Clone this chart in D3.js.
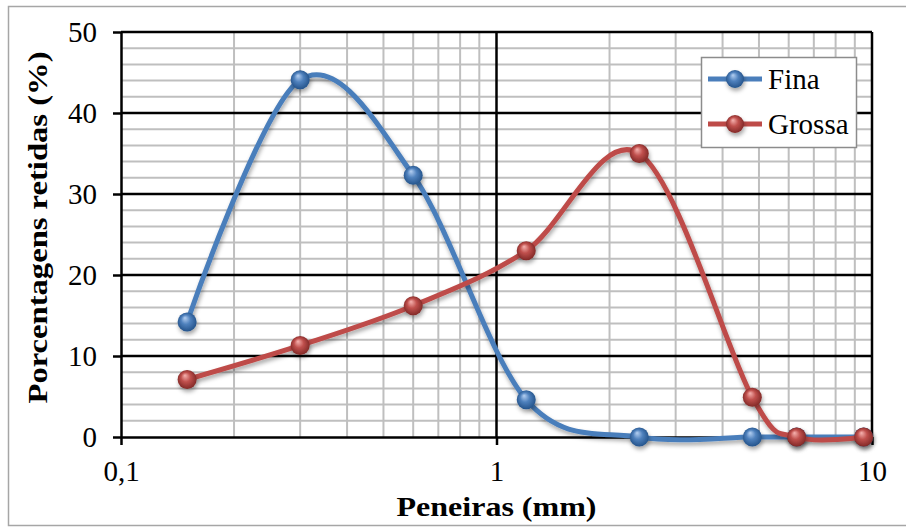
<!DOCTYPE html>
<html>
<head>
<meta charset="utf-8">
<script src="https://cdn.jsdelivr.net/npm/d3@7"></script>
<style>
  body { margin: 0; background: #fff; }
  svg { display: block; }
</style>
</head>
<body>
<div id="chart"></div>
<script>
// Sieve openings (mm) and retained percentages.
const peneiras = [0.15, 0.3, 0.6, 1.2, 2.4, 4.8, 6.3, 9.5];
const fina = [14.2, 44.1, 32.3, 4.6, 0, 0, 0, 0];
const grossa = [7.1, 11.3, 16.2, 23.0, 35.0, 4.9, 0, 0];

const seriesNames = ["Fina", "Grossa"];
const xTicks = [0.1, 1, 10];
const xTickLabels = ["0,1", "1", "10"];
const yTicks = [0, 10, 20, 30, 40, 50];

const width = 906, height = 527;
const margin = { top: 32, right: 34, bottom: 90, left: 121 };

const svg = d3.select("#chart").append("svg")
    .attr("width", width)
    .attr("height", height);

// Gradients for the shiny ball markers and a soft drop shadow.
const defs = svg.append("defs");
const palette = {
    Fina: { line: "#4A7EBB", light: "#B5D0F2", base: "#4F81BD", dark: "#1F4E85" },
    Grossa: { line: "#BE4B48", light: "#F6B3B0", base: "#C0504D", dark: "#7A2422" }
};
seriesNames.forEach(name => {
    const g = defs.append("radialGradient")
        .attr("id", "ball-" + name)
        .attr("cx", "50%").attr("cy", "50%").attr("r", "55%")
        .attr("fx", "38%").attr("fy", "28%");
    g.append("stop").attr("offset", "0%").attr("stop-color", palette[name].light);
    g.append("stop").attr("offset", "45%").attr("stop-color", palette[name].base);
    g.append("stop").attr("offset", "100%").attr("stop-color", palette[name].dark);
});
const shadow = defs.append("filter").attr("id", "shadow")
    .attr("x", "-50%").attr("y", "-50%").attr("width", "200%").attr("height", "200%");
shadow.append("feDropShadow")
    .attr("dx", 1).attr("dy", 3).attr("stdDeviation", 2)
    .attr("flood-color", "#000").attr("flood-opacity", 0.35);

// Chart frame.
svg.append("rect")
    .attr("x", 8.5).attr("y", 6.5)
    .attr("width", 910).attr("height", 519)
    .attr("fill", "#fff")
    .attr("stroke", "#A6A6A6")
    .attr("stroke-width", 1.5);

const x = d3.scaleLog()
    .domain([0.1, 10])
    .range([margin.left, width - margin.right]);

const y = d3.scaleLinear()
    .domain([0, 50])
    .range([height - margin.bottom, margin.top]);

// Minor grid lines: 2..9 within each decade, every 2 units vertically.
const minorX = [];
[0.1, 1].forEach(dec => {
    for (let k = 2; k <= 9; k++) minorX.push(dec * k);
});
const minorY = d3.range(0, 51, 2).filter(v => v % 10 !== 0);

const grid = svg.append("g");
grid.selectAll(".gx").data(minorX).join("line")
    .attr("x1", d => x(d)).attr("x2", d => x(d))
    .attr("y1", y(0)).attr("y2", y(50))
    .attr("stroke", "#BFBFBF").attr("stroke-width", 2);
grid.selectAll(".gy").data(minorY).join("line")
    .attr("x1", x(0.1)).attr("x2", x(10))
    .attr("y1", d => y(d)).attr("y2", d => y(d))
    .attr("stroke", "#BFBFBF").attr("stroke-width", 2);

// Major grid lines in black.
grid.selectAll(".My").data(yTicks.filter(v => v > 0)).join("line")
    .attr("x1", x(0.1)).attr("x2", x(10))
    .attr("y1", d => y(d)).attr("y2", d => y(d))
    .attr("stroke", "#000").attr("stroke-width", 2.5);
grid.selectAll(".Mx").data(xTicks.filter(v => v > 0.1)).join("line")
    .attr("x1", d => x(d)).attr("x2", d => x(d))
    .attr("y1", y(0)).attr("y2", y(50))
    .attr("stroke", "#000").attr("stroke-width", 2.5);

// Axes.
const tickFont = "'Liberation Serif', 'DejaVu Serif', serif";
const xAxis = d3.axisBottom(x)
    .tickValues(xTicks)
    .tickFormat((d, i) => xTickLabels[i])
    .tickSize(8).tickSizeOuter(0).tickPadding(15);
const yAxis = d3.axisLeft(y)
    .tickValues(yTicks)
    .tickSize(8).tickSizeOuter(0).tickPadding(16);

const gx = svg.append("g")
    .attr("transform", `translate(0,${y(0)})`)
    .call(xAxis);
const gy = svg.append("g")
    .attr("transform", `translate(${x(0.1)},0)`)
    .call(yAxis);
[gx, gy].forEach(g => {
    g.select(".domain").attr("stroke", "#000").attr("stroke-width", 2.5);
    g.selectAll(".tick line").attr("stroke", "#000").attr("stroke-width", 2.5);
    g.selectAll(".tick text")
        .attr("fill", "#000")
        .style("font-family", tickFont)
        .style("font-size", "29px");
});

// Smoothed series lines (Excel-like smoothing) and ball markers.
const line = d3.line()
    .x(d => x(d.size))
    .y(d => y(d.value))
    .curve(d3.curveCardinal.tension(0));

const seriesData = {
    Fina: peneiras.map((s, i) => ({ size: s, value: fina[i] })),
    Grossa: peneiras.map((s, i) => ({ size: s, value: grossa[i] }))
};

seriesNames.forEach(name => {
    const g = svg.append("g");
    g.append("path")
        .datum(seriesData[name])
        .attr("d", line)
        .attr("fill", "none")
        .attr("stroke", palette[name].line)
        .attr("stroke-width", 5)
        .attr("stroke-linecap", "round")
        .attr("filter", "url(#shadow)");
    g.selectAll("circle").data(seriesData[name]).join("circle")
        .attr("cx", d => x(d.size))
        .attr("cy", d => y(d.value))
        .attr("r", 9.5)
        .attr("fill", `url(#ball-${name})`)
        .attr("filter", "url(#shadow)");
});

// Legend.
const legend = svg.append("g");
legend.append("rect")
    .attr("x", 701.5).attr("y", 57.5)
    .attr("width", 155).attr("height", 90)
    .attr("fill", "#fff")
    .attr("stroke", "#8C8C8C")
    .attr("stroke-width", 1.5);
seriesNames.forEach((name, i) => {
    const ly = 79 + i * 45;
    legend.append("line")
        .attr("x1", 708).attr("x2", 762)
        .attr("y1", ly).attr("y2", ly)
        .attr("stroke", palette[name].line)
        .attr("stroke-width", 5);
    legend.append("circle")
        .attr("cx", 735).attr("cy", ly).attr("r", 9)
        .attr("fill", `url(#ball-${name})`)
        .attr("filter", "url(#shadow)");
    legend.append("text")
        .attr("x", 768).attr("y", ly)
        .attr("dy", "0.35em")
        .style("font-family", tickFont)
        .style("font-size", "29px")
        .text(name);
});

// Axis titles (stretched a little to the width of the original's Cambria).
svg.append("text")
    .attr("x", (x(0.1) + x(10)) / 2)
    .attr("y", 516)
    .attr("text-anchor", "middle")
    .attr("textLength", 200)
    .attr("lengthAdjust", "spacingAndGlyphs")
    .style("font-family", tickFont)
    .style("font-weight", "bold")
    .style("font-size", "28px")
    .text("Peneiras (mm)");

svg.append("text")
    .attr("transform", `translate(47,${(y(0) + y(50)) / 2 - 7}) rotate(-90)`)
    .attr("text-anchor", "middle")
    .attr("textLength", 352)
    .attr("lengthAdjust", "spacingAndGlyphs")
    .style("font-family", tickFont)
    .style("font-weight", "bold")
    .style("font-size", "28px")
    .text("Porcentagens retidas (%)");
</script>
</body>
</html>
